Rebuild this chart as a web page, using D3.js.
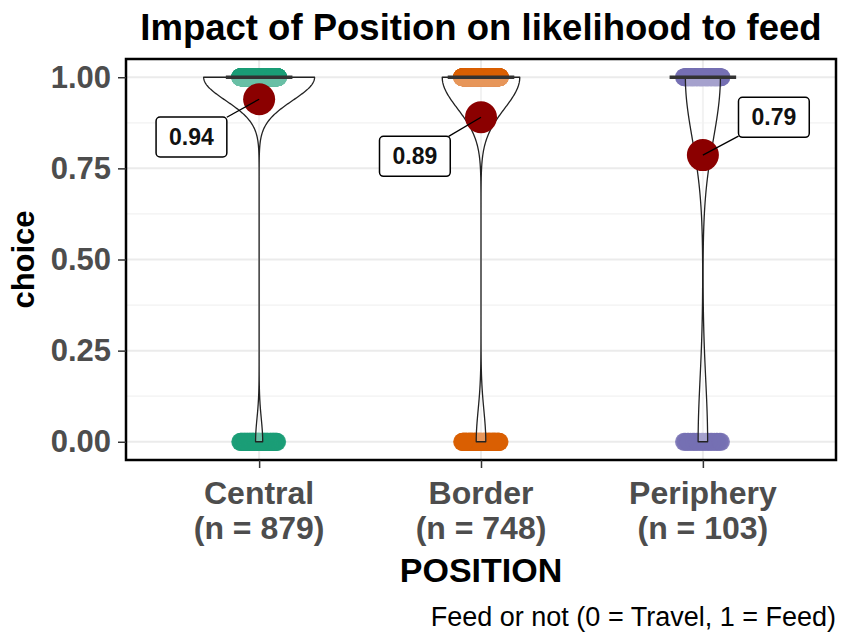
<!DOCTYPE html>
<html>
<head>
<meta charset="utf-8">
<script src="https://cdn.jsdelivr.net/npm/d3@7"></script>
<style>
  html, body { margin: 0; padding: 0; background: #fff; }
  svg { display: block; font-family: "Liberation Sans", Arial, sans-serif; }
</style>
</head>
<body>
<svg id="chart" width="843" height="636"></svg>
<script>
// ---------------- DATA ----------------
const categories   = ["Central", "Border", "Periphery"];
const totalCounts  = [879, 748, 103];   // n per position
const feedCounts   = [826, 666, 81];    // choice = 1 (Feed)
const yTicks       = [0, 0.25, 0.5, 0.75, 1];
const titleText    = "Impact of Position on likelihood to feed";
const xTitleText   = "POSITION";
const yTitleText   = "choice";
const captionText  = "Feed or not (0 = Travel, 1 = Feed)";

// ---------------- STYLE / LAYOUT ----------------
const colors = ["#1B9E77", "#D95F02", "#7570B3"];
const panel = { left: 126, right: 836, top: 59, bottom: 460 };
// label placement (repel-like offsets): x offset in category units, y in data units
const labelLayout = [
  { dx: -0.305, y: 0.836 },
  { dx: -0.298, y: 0.783 },
  { dx:  0.320, y: 0.890 }
];

const svg = d3.select("#chart");

const x = d3.scalePoint().domain(categories).range([panel.left, panel.right]).padding(0.6);
const step = x.step();
const y = d3.scaleLinear().domain([-0.05, 1.05]).range([panel.bottom, panel.top]);

// grid
const g = svg.append("g");
const minor = d3.range(0, 4).map(i => yTicks[i] + 0.125);
g.selectAll("line.minor").data(minor).enter().append("line")
  .attr("x1", panel.left).attr("x2", panel.right)
  .attr("y1", d => y(d)).attr("y2", d => y(d))
  .attr("stroke", "#F2F2F2").attr("stroke-width", 1.2);
g.selectAll("line.major").data(yTicks).enter().append("line")
  .attr("x1", panel.left).attr("x2", panel.right)
  .attr("y1", d => y(d)).attr("y2", d => y(d))
  .attr("stroke", "#EBEBEB").attr("stroke-width", 2);
g.selectAll("line.vmaj").data(categories).enter().append("line")
  .attr("x1", d => x(d)).attr("x2", d => x(d))
  .attr("y1", panel.top).attr("y2", panel.bottom)
  .attr("stroke", "#EBEBEB").attr("stroke-width", 2);

// jittered points (deterministic spread)
const jitterHalf = 0.085 * step;
const pts = [];
categories.forEach((c, ci) => {
  const n1 = feedCounts[ci], n0 = totalCounts[ci] - feedCounts[ci];
  [[0, n0], [1, n1]].forEach(([val, cnt]) => {
    for (let i = 0; i < cnt; i++) {
      const u = ((i * 0.6180339887) % 1) - 0.5;
      pts.push({ ci, val, off: u * 2 * jitterHalf });
    }
  });
});
svg.append("g").selectAll("circle").data(pts).enter().append("circle")
  .attr("cx", d => x(categories[d.ci]) + d.off)
  .attr("cy", d => y(d.val))
  .attr("r", 9)
  .attr("fill", d => colors[d.ci])
  .attr("fill-opacity", 0.85);

// violins (Gaussian KDE, bw.nrd0, trimmed to [0,1], scale = "area")
function kde(ci) {
  const n = totalCounts[ci], n1 = feedCounts[ci], n0 = n - n1;
  const p = n1 / n;
  const sd = Math.sqrt(n * p * (1 - p) / (n - 1));
  const bw = 0.9 * sd * Math.pow(n, -0.2) * 1.15;
  const grid = d3.range(512).map(i => i / 511);
  return grid.map(v => {
    const k = (a) => Math.exp(-0.5 * (a / bw) * (a / bw)) / (bw * Math.sqrt(2 * Math.PI));
    return { v, d: (n1 * k(v - 1) + n0 * k(v)) / n };
  });
}
const dens = categories.map((c, ci) => kde(ci));
const maxD = d3.max(dens, a => d3.max(a, e => e.d));
const violinHalf = 0.25 * step;
const vg = svg.append("g");
dens.forEach((arr, ci) => {
  const cx = x(categories[ci]);
  const left = arr.map(e => [cx - e.d / maxD * violinHalf, y(e.v)]);
  const right = arr.slice().reverse().map(e => [cx + e.d / maxD * violinHalf, y(e.v)]);
  vg.append("path")
    .attr("d", d3.line()(left.concat(right)) + "Z")
    .attr("fill", "#fff").attr("fill-opacity", 0.35)
    .attr("stroke", "#222").attr("stroke-width", 1.3)
    .attr("stroke-linejoin", "round");
});

// collapsed boxplots (Q1 = median = Q3 = 1)
const boxHalf = 0.15 * step;
svg.append("g").selectAll("line").data(categories).enter().append("line")
  .attr("x1", d => x(d) - boxHalf).attr("x2", d => x(d) + boxHalf)
  .attr("y1", y(1)).attr("y2", y(1))
  .attr("stroke", "#333").attr("stroke-width", 3.5);

// means
const means = categories.map((c, ci) => feedCounts[ci] / totalCounts[ci]);
svg.append("g").selectAll("circle").data(means).enter().append("circle")
  .attr("cx", (d, i) => x(categories[i]))
  .attr("cy", d => y(d))
  .attr("r", 16)
  .attr("fill", "#8B0000");

// labels
const lg = svg.append("g");
means.forEach((m, i) => {
  const px = x(categories[i]), py = y(m);
  const lx = px + labelLayout[i].dx * step, ly = y(labelLayout[i].y);
  const t = lg.append("text").text(d3.format(".2f")(m))
    .attr("font-size", 23).attr("font-weight", "bold").attr("fill", "#111")
    .attr("text-anchor", "middle").attr("x", lx).attr("y", ly + 8);
  const tw = t.node().getComputedTextLength();
  const bw = tw + 26, bh = 40;
  const dx = px - lx, dy = py - ly;
  const tt = Math.min(Math.abs((bw / 2) / dx), Math.abs((bh / 2) / dy));
  const ex = lx + dx * tt, ey = ly + dy * tt;
  lg.insert("line", "text")
    .attr("x1", px).attr("y1", py).attr("x2", ex).attr("y2", ey)
    .attr("stroke", "#000").attr("stroke-width", 1.3);
  lg.insert("rect", "text")
    .attr("x", lx - bw / 2).attr("y", ly - bh / 2)
    .attr("width", bw).attr("height", bh).attr("rx", 4)
    .attr("fill", "#fff").attr("stroke", "#000").attr("stroke-width", 1.5);
});

// panel border
svg.append("rect")
  .attr("x", panel.left).attr("y", panel.top)
  .attr("width", panel.right - panel.left).attr("height", panel.bottom - panel.top)
  .attr("fill", "none").attr("stroke", "#000").attr("stroke-width", 2.5);

// y axis
const ya = svg.append("g").attr("transform", `translate(${panel.left},0)`)
  .call(d3.axisLeft(y).tickValues(yTicks).tickFormat(d3.format(".2f")).tickSize(8).tickPadding(7));
ya.select(".domain").remove();
ya.selectAll(".tick line").attr("stroke", "#333").attr("stroke-width", 1.5);
ya.selectAll(".tick text").attr("font-size", 31).attr("font-weight", "bold")
  .attr("fill", "#4D4D4D").attr("font-family", "Liberation Sans, Arial, sans-serif");

// x axis
const xa = svg.append("g").attr("transform", `translate(0,${panel.bottom})`)
  .call(d3.axisBottom(x).tickSize(8).tickFormat(""));
xa.select(".domain").remove();
xa.selectAll(".tick line").attr("stroke", "#333").attr("stroke-width", 1.5);
categories.forEach((c, i) => {
  svg.append("text").attr("text-anchor", "middle")
    .attr("font-size", 32).attr("font-weight", "bold").attr("fill", "#4D4D4D")
    .attr("x", x(c)).attr("y", 504).text(c);
  svg.append("text").attr("text-anchor", "middle")
    .attr("font-size", 32).attr("font-weight", "bold").attr("fill", "#4D4D4D")
    .attr("x", x(c)).attr("y", 539).text(`(n = ${totalCounts[i]})`);
});

// titles
svg.append("text").attr("x", (panel.left + panel.right) / 2).attr("y", 40)
  .attr("text-anchor", "middle").attr("font-size", 36.5).attr("font-weight", "bold")
  .attr("fill", "#000").text(titleText);
svg.append("text").attr("x", (panel.left + panel.right) / 2).attr("y", 582)
  .attr("text-anchor", "middle").attr("font-size", 34).attr("font-weight", "bold")
  .attr("fill", "#000").text(xTitleText);
svg.append("text").attr("transform", `translate(34,${(panel.top + panel.bottom) / 2}) rotate(-90)`)
  .attr("text-anchor", "middle").attr("font-size", 31).attr("font-weight", "bold")
  .attr("fill", "#000").text(yTitleText);
svg.append("text").attr("x", panel.right).attr("y", 626)
  .attr("text-anchor", "end").attr("font-size", 27)
  .attr("fill", "#000").text(captionText);
</script>
</body>
</html>
